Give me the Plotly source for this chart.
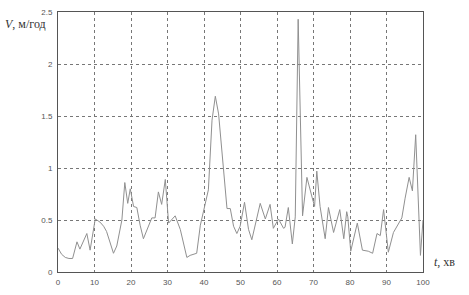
import plotly.graph_objects as go

t_min = [0, 1, 2, 3, 4, 5.2, 6, 7, 7.9, 8.8, 9.5, 10.2, 11.5, 12.5, 13.3, 14.3, 15.2, 16.1, 17, 17.5,
         18.3, 19.1, 19.8, 20.7, 21.6, 22.5, 23.4, 24.7, 25.7, 26.6, 27.5, 28.4, 29.4, 30.3, 31, 32.1,
         33.5, 34.5, 35.3, 36.2, 37, 38, 39, 40.3, 41.2, 42.2, 43.1, 44, 45.3, 46.3, 47.2, 48.1, 49,
         49.9, 51.1, 52.2, 53.1, 54, 55.4, 56.8, 58.1, 59, 60.4, 61.8, 62.2, 63.1, 64.2, 65, 65.8, 67,
         68.2, 69.6, 70.3, 70.9, 71.8, 73.2, 74.1, 75.5, 77.2, 78.3, 79.1, 79.4, 80.2, 82, 83.4, 85,
         86.2, 87.4, 88.3, 89.2, 90.5, 91.9, 92.8, 94.2, 95.1, 96.2, 97.1, 98, 99.3, 100]
v_mh = [0.23, 0.17, 0.14, 0.13, 0.13, 0.29, 0.22, 0.30, 0.37, 0.21, 0.38, 0.51, 0.48, 0.44, 0.39, 0.27, 0.18, 0.25, 0.40, 0.50,
        0.86, 0.66, 0.80, 0.63, 0.62, 0.45, 0.32, 0.44, 0.52, 0.52, 0.77, 0.65, 0.89, 0.47, 0.50, 0.54,
        0.41, 0.25, 0.14, 0.16, 0.17, 0.18, 0.45, 0.66, 0.79, 1.46, 1.69, 1.52, 1.03, 0.61, 0.61, 0.44, 0.37,
        0.44, 0.67, 0.41, 0.31, 0.44, 0.66, 0.51, 0.65, 0.42, 0.51, 0.42, 0.43, 0.62, 0.27, 0.53, 2.43, 0.54,
        0.91, 0.72, 0.63, 0.97, 0.63, 0.32, 0.62, 0.38, 0.60, 0.32, 0.58, 0.53, 0.20, 0.47, 0.21, 0.20,
        0.18, 0.37, 0.35, 0.60, 0.19, 0.38, 0.44, 0.52, 0.71, 0.91, 0.78, 1.32, 0.16, 0.50]

x_ticks = [0, 10, 20, 30, 40, 50, 60, 70, 80, 90, 100]
y_ticks = [0, 0.5, 1, 1.5, 2, 2.5]
y_tick_labels = ["0", "0.5", "1", "1.5", "2", "2.5"]

fig = go.Figure()
fig.add_trace(go.Scatter(x=t_min, y=v_mh, mode="lines",
                         line=dict(color="#909090", width=1), showlegend=False))

axis_common = dict(showline=True, linecolor="#555555", linewidth=1, mirror=True,
                   showgrid=True, gridcolor="#777777", griddash="dot", gridwidth=1,
                   zeroline=False, ticks="", tickfont=dict(family="Liberation Sans", size=8, color="#555555"))

fig.update_xaxes(range=[0, 100], tickvals=x_ticks, ticklabelstandoff=2, **axis_common)
fig.update_yaxes(range=[0, 2.5], tickvals=y_ticks, ticktext=y_tick_labels, ticklabelstandoff=3, **axis_common)

fig.add_annotation(text="<i>V</i>, м/год", xref="paper", yref="paper", x=-0.152, y=0.955,
                   xanchor="left", yanchor="middle", showarrow=False,
                   font=dict(family="Liberation Serif", size=12, color="#333333"))
fig.add_annotation(text="<i>t</i>, хв", xref="paper", yref="paper", x=1.025, y=0.04,
                   xanchor="left", yanchor="middle", showarrow=False,
                   font=dict(family="Liberation Serif", size=12, color="#333333"))

fig.update_layout(width=469, height=295, margin=dict(l=58, r=46, t=8, b=17),
                  paper_bgcolor="white", plot_bgcolor="white")

fig.write_html("out.html")
